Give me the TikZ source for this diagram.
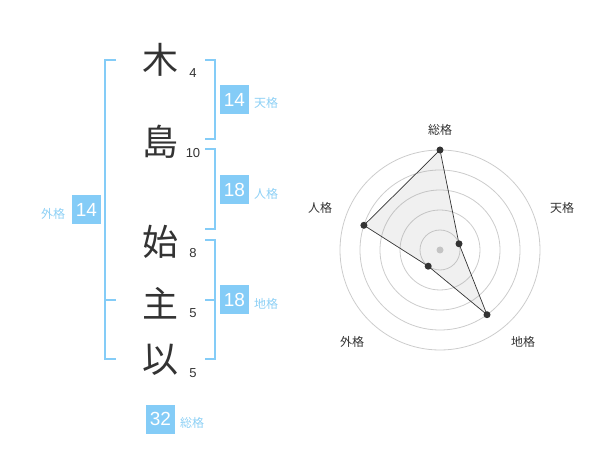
\documentclass[tikz,border=0pt]{standalone}
\usepackage{fontspec}
\setmainfont{Liberation Sans}
\newfontfamily\jp{Noto Sans CJK JP}
\definecolor{sky}{HTML}{84CCF7}
\definecolor{skytext}{HTML}{8DD0F5}
\definecolor{ink}{HTML}{333333}
\definecolor{ring}{HTML}{CCCCCC}
\tikzset{
  kanji/.style={font=\jp\fontsize{36}{36}\selectfont, text=ink, inner sep=0pt},
  strokes/.style={font=\fontsize{13}{13}\selectfont, text=ink, inner sep=0pt},
  valbox/.style={fill=sky, text=white, minimum width=29pt, minimum height=29pt, inner sep=0pt, font=\fontsize{19}{19}\selectfont},
  kaku/.style={font=\jp\fontsize{12}{12}\selectfont, text=skytext, inner sep=0pt},
  brk/.style={draw=sky, line width=2pt},
  radarlbl/.style={font=\jp\fontsize{12}{12}\selectfont, text=ink, inner sep=0pt},
  ringline/.style={draw=ring, line width=0.8pt},
  vdot/.style={circle, fill=ink, minimum size=7pt, inner sep=0pt},
}
\begin{document}
\begin{tikzpicture}[x=1pt,y=-1pt]
\useasboundingbox (0,0) rectangle (600,470);
% characters
\node[kanji] (c1) at (160,60) {木};
\node[kanji] (c2) at (160,142) {島};
\node[kanji] (c3) at (160,242) {始};
\node[kanji] (c4) at (160,303) {主};
\node[kanji] (c5) at (160,360) {以};
\node[strokes] (n1) at (193,73) {4};
\node[strokes] (n2) at (193,153) {10};
\node[strokes] (n3) at (193,253) {8};
\node[strokes] (n4) at (193,313) {5};
\node[strokes] (n5) at (193,373) {5};
% brackets
\draw[brk] (116,60) -- (105,60) -- (105,359.5) -- (116,359.5);
\draw[brk] (105,300) -- (116,300);
\draw[brk] (205,60) -- (214.5,60) -- (214.5,139.5) -- (205,139.5);
\draw[brk] (205,149.5) -- (214.5,149.5) -- (214.5,229.5) -- (205,229.5);
\draw[brk] (205,240) -- (214.5,240) -- (214.5,359.5) -- (205,359.5);
\draw[brk] (205,300) -- (214.5,300);
% value boxes
\node[valbox] (ten) at (234.5,99.5) {14};
\node[kaku] (tenl) at (266,103) {天格};
\node[valbox] (jin) at (234.5,190) {18};
\node[kaku] (jinl) at (266,194) {人格};
\node[valbox] (chi) at (234.5,300) {18};
\node[kaku] (chil) at (266,304) {地格};
\node[valbox] (gai) at (86.5,210) {14};
\node[kaku] (gail) at (53,214) {外格};
\node[valbox] (sou) at (160.5,419) {32};
\node[kaku] (soul) at (192,423) {総格};
% radar
\coordinate (ctr) at (440,250);
\foreach \r in {20,40,60,80,100} \draw[ringline] (ctr) circle[radius=\r];
\fill[ring] (ctr) circle[radius=3.5];
\coordinate (ps) at (440,150);
\coordinate (pt) at (459.0,243.8);
\coordinate (pc) at (487.0,314.7);
\coordinate (pg) at (428.2,266.2);
\coordinate (pj) at (363.9,225.3);
\filldraw[fill=black!40, fill opacity=0.15, draw=ink, line width=0.7pt] (ps) -- (pt) -- (pc) -- (pg) -- (pj) -- cycle;
\foreach \p in {ps,pt,pc,pg,pj} \node[vdot] at (\p) {};
\node[radarlbl] (ls) at (440,130) {総格};
\node[radarlbl] (lt) at (562,208) {天格};
\node[radarlbl] (lj) at (320,208) {人格};
\node[radarlbl] (lg) at (352,342) {外格};
\node[radarlbl] (lc) at (523,342) {地格};
\end{tikzpicture}
\end{document}
